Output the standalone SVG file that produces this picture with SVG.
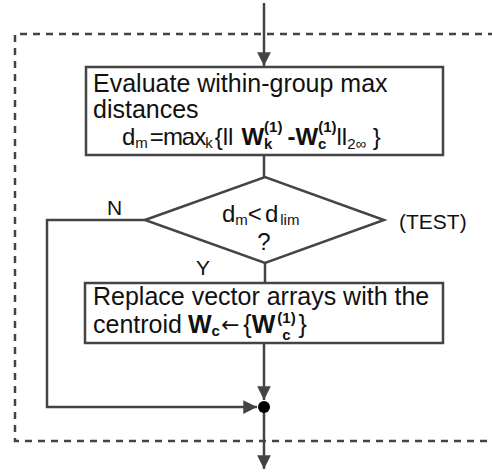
<svg xmlns="http://www.w3.org/2000/svg" width="492" height="473" viewBox="0 0 492 473">
<style>
text{font-family:"Liberation Sans",Arial,sans-serif;font-size:25px;fill:#111}
.f24{font-size:24px}
.sub{font-size:15px}
.b{font-weight:bold}
.lbl{font-size:21px}
.arr{font-family:"DejaVu Sans",sans-serif;font-size:22px}
.shape{fill:#fff;stroke:#444;stroke-width:2.5}
.line{fill:none;stroke:#444;stroke-width:2.5}
.dash{fill:none;stroke:#444;stroke-width:2.5;stroke-dasharray:7 6}
</style>
<defs>
<marker id="ah" viewBox="0 0 10 10" refX="10" refY="5" markerWidth="5.5" markerHeight="5.5" markerUnits="strokeWidth" orient="auto">
<path d="M0,0 L10,5 L0,10 z" fill="#444"/>
</marker>
</defs>
<rect width="492" height="473" fill="#fff"/>
<path class="dash" d="M495,34 H15 V441 H495"/>
<g id="connectors">
<path class="line" d="M264,3 V66" marker-end="url(#ah)"/>
<path class="line" d="M264,155 V177"/>
<path class="line" d="M265,263 V283"/>
<path class="line" d="M264,343 V400" marker-end="url(#ah)"/>
<path class="line" d="M145,220 H47 V407 H257" marker-end="url(#ah)"/>
<path class="line" d="M264,407 V469" marker-end="url(#ah)"/>
<circle cx="264" cy="407" r="6" fill="#000"/>
</g>
<g id="evaluate">
<rect class="shape" x="86" y="67" width="357" height="88"/>
<text x="93" y="92">Evaluate within-group max</text>
<text x="93" y="118">distances</text>
<text class="f24" x="122" y="145">d<tspan class="sub" dy="3">m</tspan><tspan dx="2" dy="-3" letter-spacing="-1">=max</tspan><tspan class="sub" dy="3">k</tspan><tspan dx="2" dy="-3">{ll</tspan><tspan class="b" dx="8">W</tspan><tspan class="sub b" dy="4">k</tspan><tspan class="sub b" dx="-8.3" dy="-17">(1)</tspan><tspan class="b" dx="5" dy="13">-W</tspan><tspan class="sub b" dy="4">c</tspan><tspan class="sub b" dx="-8.3" dy="-17">(1)</tspan><tspan dx="0" dy="13">ll</tspan><tspan class="sub" dy="4">2∞</tspan><tspan dy="-4"> }</tspan></text>
</g>
<g id="test">
<polygon class="shape" points="145,220 265,177 384,220 265,263"/>
<text class="f24" x="222" y="222">d<tspan class="sub" dy="3">m</tspan><tspan dy="-3">&lt;</tspan><tspan dx="3">d</tspan><tspan class="sub" dx="2" dy="3">lim</tspan></text>
<text class="f24" x="264" y="250" text-anchor="middle">?</text>
</g>
<text class="lbl" x="399" y="229">(TEST)</text>
<text class="lbl" x="107" y="215">N</text>
<text class="lbl" x="196" y="275">Y</text>
<g id="replace">
<rect class="shape" x="85" y="283" width="358" height="60"/>
<text x="93" y="305">Replace vector arrays with the</text>
<text x="93" y="333">centroid<tspan class="b" dx="6">W</tspan><tspan class="sub b" dy="3">c</tspan><tspan class="arr" dx="1" dy="-4">←</tspan><tspan dx="4" dy="1">{</tspan><tspan class="b">W</tspan><tspan class="sub b" dx="2" dy="-10">(1)</tspan><tspan class="sub b" dx="-13.5" dy="17">c</tspan><tspan dx="8" dy="-7">}</tspan></text>
</g>
</svg>
